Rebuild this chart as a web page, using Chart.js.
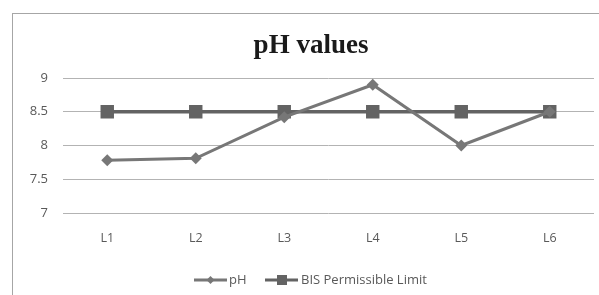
<!DOCTYPE html>
<html><head><meta charset="utf-8">
<script src="https://cdn.jsdelivr.net/npm/chart.js@4"></script>
<style>html,body{margin:0;padding:0;background:#fff}#w{position:relative;width:599px;height:295px}</style>
</head><body><div id="w"><canvas id="c" width="599" height="295"></canvas></div>
<script>
const categories = ['L1','L2','L3','L4','L5','L6'];
const phValues = [7.78, 7.81, 8.42, 8.9, 8.0, 8.5];
const bisLimit = [8.5, 8.5, 8.5, 8.5, 8.5, 8.5];
const seriesNames = ['pH', 'BIS Permissible Limit'];
const chartTitle = 'pH values';

const PH_COLOR = '#777777';
const BIS_COLOR = '#636363';
const TEXT = '#595959';
const FONT = '"Open Sans", "Liberation Sans", sans-serif';

const deco = {
  id: 'deco',
  beforeDraw(chart) {
    const ctx = chart.ctx;
    ctx.save();
    ctx.strokeStyle = '#a6a6a6';
    ctx.lineWidth = 1;
    ctx.strokeRect(12.5, 13.5, 700, 400);
    ctx.restore();
  },
  afterDraw(chart) {
    const ctx = chart.ctx;
    ctx.save();
    ctx.fillStyle = '#1a1a1a';
    ctx.font = 'bold 27px "Liberation Serif", "DejaVu Serif", serif';
    ctx.textAlign = 'center';
    ctx.textBaseline = 'alphabetic';
    ctx.fillText(chartTitle, 311, 53);
    const y = 280;
    ctx.font = '13px ' + FONT;
    ctx.textAlign = 'left';
    ctx.textBaseline = 'middle';
    ctx.strokeStyle = PH_COLOR; ctx.lineWidth = 3;
    ctx.beginPath(); ctx.moveTo(194, y); ctx.lineTo(227, y); ctx.stroke();
    ctx.fillStyle = PH_COLOR;
    ctx.beginPath(); ctx.moveTo(210.5, y-4); ctx.lineTo(214.5, y); ctx.lineTo(210.5, y+4); ctx.lineTo(206.5, y); ctx.closePath(); ctx.fill();
    ctx.fillStyle = TEXT; ctx.fillText(seriesNames[0], 229, y);
    ctx.strokeStyle = BIS_COLOR; ctx.lineWidth = 3;
    ctx.beginPath(); ctx.moveTo(265, y); ctx.lineTo(298, y); ctx.stroke();
    ctx.fillStyle = BIS_COLOR; ctx.fillRect(277, y-5, 10, 10);
    ctx.fillStyle = TEXT; ctx.fillText(seriesNames[1], 301, y);
    ctx.restore();
  }
};

new Chart(document.getElementById('c'), {
  type: 'line',
  data: {
    labels: categories,
    datasets: [
      { label: seriesNames[0], data: phValues, borderColor: PH_COLOR, backgroundColor: PH_COLOR,
        borderWidth: 3, pointStyle: 'rectRot', pointRadius: 6, pointBorderWidth: 0, tension: 0 },
      { label: seriesNames[1], data: bisLimit, borderColor: BIS_COLOR, backgroundColor: BIS_COLOR,
        borderWidth: 3.5, pointStyle: 'rect', pointRadius: 9.5, pointBorderWidth: 0, tension: 0 }
    ]
  },
  options: {
    responsive: false, animation: false,
    layout: { autoPadding: false, padding: { left: 0, right: 5, top: 78, bottom: 42 } },
    plugins: { legend: { display: false }, title: { display: false }, tooltip: { enabled: false } },
    scales: {
      x: {
        offset: true,
        grid: { display: false, drawTicks: false },
        border: { display: false },
        ticks: { color: TEXT, padding: 18, font: { family: FONT, size: 12.5 } },
        afterFit(s) { s.height = 40; s.paddingRight = 0; s.paddingLeft = 0; }
      },
      y: {
        min: 7, max: 9,
        grid: { color: '#b3b3b3', drawTicks: false },
        border: { display: false },
        ticks: { stepSize: 0.5, color: TEXT, padding: 15, font: { family: FONT, size: 13 },
                 callback: v => String(v) },
        afterFit(s) { s.width = 63; }
      }
    }
  },
  plugins: [deco]
});
</script></body></html>
